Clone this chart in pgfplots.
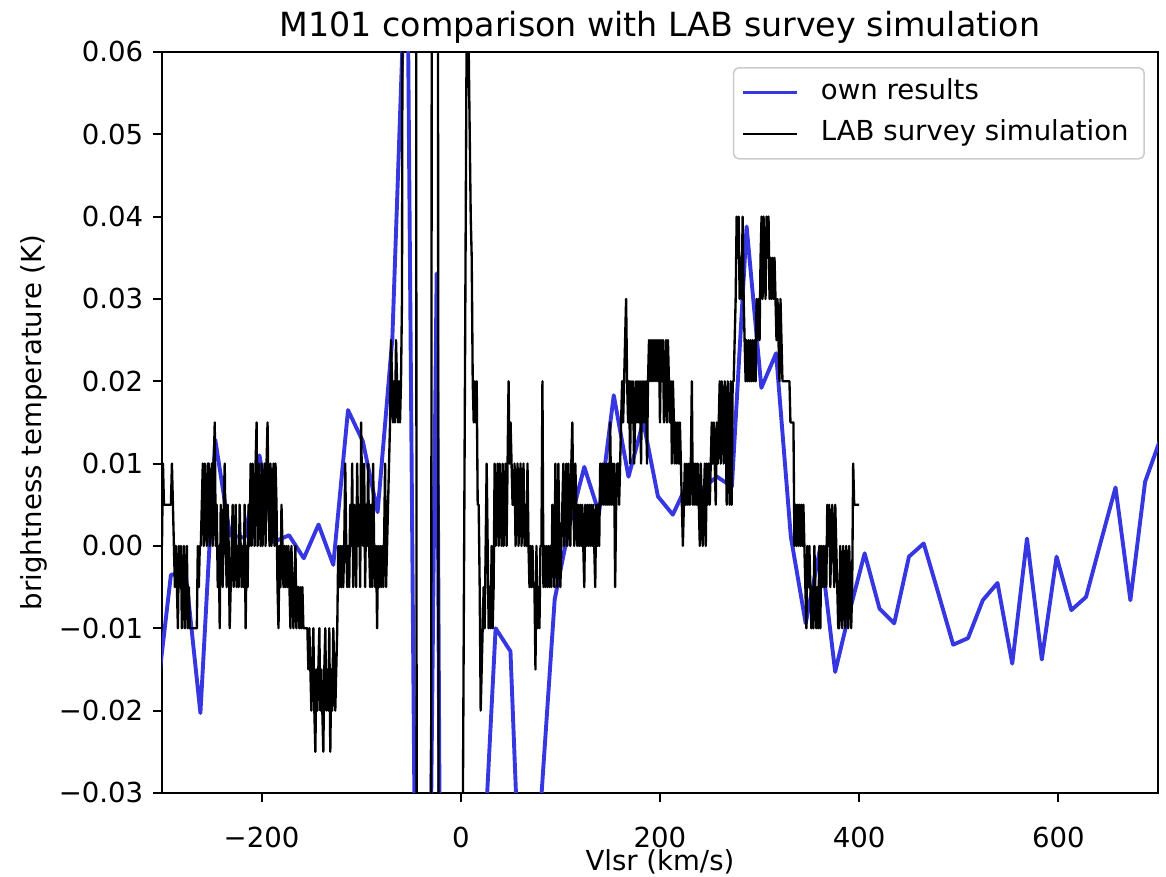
\documentclass[border=0pt]{standalone}
\usepackage{fontspec}
\setmainfont{DejaVu Sans}
\usepackage{pgfplots}
\pgfplotsset{compat=1.18}
\definecolor{ownblue}{RGB}{55,55,225}
\definecolor{legframe}{RGB}{204,204,204}
\begin{document}
\begin{tikzpicture}
\begin{axis}[
  scale only axis, width=383.1pt, height=285pt,
  at={(0,0)}, anchor=south west,
  xmin=-300, xmax=700, ymin=-0.03, ymax=0.06,
  xtick={-200,0,200,400,600},
  xticklabels={−200,0,200,400,600},
  ytick={-0.03,-0.02,-0.01,0,0.01,0.02,0.03,0.04,0.05,0.06},
  yticklabels={−0.03,−0.02,−0.01,0.00,0.01,0.02,0.03,0.04,0.05,0.06},
  scaled y ticks=false,
  tick align=outside, xtick pos=bottom, ytick pos=left,
  major tick length=3.5pt,
  every tick/.style={black, line width=0.8pt},
  axis line style={line width=0.8pt},
  tick label style={font=\fontsize{10.6}{12.7}\selectfont},
  xticklabel style={anchor=base, inner sep=0pt, yshift=-17.4pt},
  yticklabel style={anchor=east, inner sep=0pt, xshift=-3.5pt},
  title={M101 comparison with LAB survey simulation},
  title style={at={(axis description cs:0.5,1)}, anchor=base, yshift=0pt, inner sep=0pt, font=\fontsize{12.8}{15.4}\selectfont},
  xlabel={Vlsr (km/s)},
  xlabel style={at={([yshift=-30.0pt]axis description cs:0.5,0)}, anchor=base, inner sep=0pt, font=\fontsize{10.6}{12.7}\selectfont},
  ylabel={brightness temperature (K)},
  ylabel style={at={([xshift=-46.5pt]axis description cs:0,0.5)}, anchor=base, inner sep=0pt, font=\fontsize{10.6}{12.7}\selectfont},
  legend style={at={(1,1)}, anchor=north east, xshift=-5pt, yshift=-5.8pt,
    draw=legframe, line width=0.6pt, rounded corners=2pt, fill=white,
    font=\fontsize{10.6}{12.7}\selectfont, inner xsep=3pt, inner ysep=4.3pt,
    row sep=5.6pt, column sep=5.3pt,
    nodes={inner ysep=0pt, inner xsep=3pt, text height=7.8pt, text depth=2.6pt}},
  legend cell align=left,
  legend image code/.code={\draw[#1] (0pt,0pt) -- (20.8pt,0pt);},
]
\addplot[ownblue, line width=1.5pt, line join=round] coordinates {
(-305.8,-0.019) (-291.0,-0.0035) (-276.2,-0.0033) (-261.4,-0.0203) (-246.5,0.0129)
(-231.7,0.0013) (-216.9,0.0010) (-202.1,0.0110) (-187.3,0.0005) (-172.4,0.0013)
(-157.6,-0.0015) (-142.8,0.0026) (-128.0,-0.0023) (-113.2,0.0165) (-98.3,0.0127)
(-83.5,0.0041) (-68.7,0.0252) (-53.9,0.077) (-39.1,-0.140) (-24.2,0.0331)
(-9.4,-0.300) (5.4,-0.150) (20.2,-0.045) (35.0,-0.0100) (49.9,-0.0128)
(64.7,-0.059) (79.5,-0.033) (94.3,-0.0065) (109.1,0.0025) (124.0,0.0096)
(138.8,0.0040) (153.6,0.0183) (168.4,0.0084) (183.2,0.0151) (198.0,0.0060)
(212.9,0.0038) (227.7,0.0076) (242.5,0.0070) (257.3,0.0084) (272.2,0.0072)
(287.0,0.0388) (301.8,0.0192) (316.6,0.0234) (331.4,0.0011) (346.3,-0.0094)
(361.1,-0.0001) (375.9,-0.0153) (390.7,-0.0078) (405.5,-0.0009) (420.4,-0.0076)
(435.2,-0.0094) (450.0,-0.0013) (464.8,0.0003) (479.6,-0.0058) (494.4,-0.0120)
(509.3,-0.0112) (524.1,-0.0066) (538.9,-0.0045) (553.7,-0.0143) (568.5,0.0009)
(583.4,-0.0138) (598.2,-0.0013) (613.0,-0.0078) (627.8,-0.0062) (642.6,0.0005)
(657.4,0.0071) (672.3,-0.0066) (687.1,0.0078) (701.9,0.0128)
};
\addlegendentry{own results}
\addplot[black, line width=0.9pt, line join=round] coordinates {
(-300,0) (-299,0.01) (-298,0.005) (-297,0.005) (-296,0.005) (-295,0.005) (-294,0.005) (-293,0.005) (-292,0.005) (-291,0.005)
(-290,0.01) (-289,0.005) (-288,0) (-287,-0.005) (-286,0) (-285,-0.005) (-284,-0.01) (-283,0) (-282,-0.005) (-281,0)
(-280,-0.01) (-279,-0.005) (-278,0) (-277,-0.01) (-276,-0.005) (-275,0) (-274,-0.01) (-273,-0.005) (-272,-0.01) (-271,-0.01)
(-270,-0.01) (-269,-0.01) (-268,-0.01) (-267,-0.01) (-266,-0.01) (-265,-0.01) (-264,0) (-263,-0.005) (-262,0) (-261,0)
(-260,0.005) (-259,0.01) (-258,0) (-257,0.01) (-256,0.005) (-255,0) (-254,0.01) (-253,0.01) (-252,0) (-251,0.005)
(-250,0.01) (-249,0) (-248,0.01) (-247,0.015) (-246,0) (-245,0.005) (-244,-0.005) (-243,0) (-242,-0.01) (-241,0.005)
(-240,0) (-239,-0.005) (-238,0.005) (-237,0.01) (-236,0) (-235,-0.005) (-234,0.005) (-233,0) (-232,-0.01) (-231,-0.005)
(-230,0) (-229,0.005) (-228,-0.005) (-227,0) (-226,0.005) (-225,-0.005) (-224,0) (-223,-0.005) (-222,0.005) (-221,0)
(-220,-0.005) (-219,0) (-218,-0.005) (-217,0.005) (-216,-0.01) (-215,0) (-214,-0.005) (-213,0.005) (-212,0) (-211,0.01)
(-210,0) (-209,0.01) (-208,0.005) (-207,0) (-206,0.01) (-205,0.015) (-204,0) (-203,0.01) (-202,0.005) (-201,0)
(-200,0.01) (-199,0) (-198,0.005) (-197,0.01) (-196,0) (-195,0.01) (-194,0.015) (-193,0.005) (-192,0) (-191,0.01)
(-190,0) (-189,0.005) (-188,0.01) (-187,0) (-186,0.01) (-185,0.005) (-184,-0.005) (-183,-0.01) (-182,0) (-181,-0.005)
(-180,0.005) (-179,0) (-178,-0.005) (-177,0) (-176,-0.005) (-175,0) (-174,-0.005) (-173,0) (-172,-0.005) (-171,-0.01)
(-170,0) (-169,-0.005) (-168,-0.01) (-167,-0.005) (-166,0) (-165,-0.01) (-164,-0.005) (-163,-0.005) (-162,-0.01) (-161,-0.005)
(-160,-0.01) (-159,-0.005) (-158,-0.01) (-157,-0.01) (-156,-0.01) (-155,-0.01) (-154,-0.01) (-153,-0.015) (-152,-0.01) (-151,-0.015)
(-150,-0.02) (-149,-0.015) (-148,-0.01) (-147,-0.02) (-146,-0.025) (-145,-0.015) (-144,-0.02) (-143,-0.015) (-142,-0.01) (-141,-0.02)
(-140,-0.015) (-139,-0.02) (-138,-0.025) (-137,-0.015) (-136,-0.01) (-135,-0.02) (-134,-0.015) (-133,-0.02) (-132,-0.01) (-131,-0.025)
(-130,-0.015) (-129,-0.02) (-128,-0.01) (-127,-0.015) (-126,-0.02) (-125,-0.015) (-124,-0.01) (-123,0) (-122,-0.005) (-121,0)
(-120,-0.005) (-119,0) (-118,-0.005) (-117,0) (-116,0.01) (-115,0) (-114,-0.005) (-113,0) (-112,-0.005) (-111,0.005)
(-110,0) (-109,0.01) (-108,-0.005) (-107,0.005) (-106,0) (-105,-0.005) (-104,0.01) (-103,0) (-102,0.005) (-101,-0.005)
(-100,0.015) (-99,0.005) (-98,0) (-97,0.01) (-96,-0.005) (-95,0.005) (-94,0) (-93,0.01) (-92,0) (-91,-0.005)
(-90,0.005) (-89,-0.005) (-88,0.01) (-87,0) (-86,-0.005) (-85,0) (-84,-0.01) (-83,0) (-82,-0.005) (-81,0)
(-80,-0.005) (-79,0) (-78,-0.005) (-77,0) (-76,0.01) (-75,-0.005) (-74,0) (-73,0.005) (-72,0.01) (-71,0.015)
(-70,0.025) (-69,0.02) (-68,0.015) (-67,0.02) (-66,0.015) (-65,0.025) (-64,0.02) (-63,0.015) (-62,0.02) (-61,0.015)
(-60,0.02) (-59,0.03) (-58,0.10) (-57,0.13) (-56,0.15) (-55,0.16) (-54,0.17) (-53,0.17) (-52,0.16) (-51,0.16)
(-50,0.15) (-49,0.14) (-48,0.13) (-47,0.12) (-46,0.11) (-45,0.10) (-44,-0.08) (-43,-0.12) (-42,-0.14) (-41,-0.15)
(-40,-0.15) (-39,-0.16) (-38,-0.16) (-37,-0.16) (-36,-0.15) (-35,-0.15) (-34,-0.14) (-33,-0.13) (-32,-0.12) (-31,-0.10)
(-30,-0.08) (-29,0.09) (-28,0.12) (-27,0.13) (-26,0.13) (-25,0.12) (-24,0.10) (-23,0.09) (-22,-0.09) (-21,-0.13)
(-20,-0.15) (-19,-0.17) (-18,-0.18) (-17,-0.19) (-16,-0.20) (-15,-0.20) (-14,-0.20) (-13,-0.19) (-12,-0.18) (-11,-0.17)
(-10,-0.16) (-9,-0.15) (-8,-0.14) (-7,-0.13) (-6,-0.12) (-5,-0.11) (-4,-0.10) (-3,-0.09) (-2,-0.085) (-1,-0.08)
(0,-0.08) (1,-0.08) (2,-0.035) (3,-0.01) (4,0.015) (5,0.04) (6,0.065) (7,0.07) (8,0.06) (9,0.05)
(10,0.04) (11,0.035) (12,0.02) (13,0.015) (14,0.02) (15,0.015) (16,0.02) (17,0.005) (18,0.005) (19,-0.005)
(20,-0.02) (21,-0.015) (22,-0.01) (23,-0.005) (24,-0.01) (25,0) (26,0.01) (27,0) (28,-0.01) (29,-0.005)
(30,-0.01) (31,0) (32,-0.01) (33,-0.005) (34,0.01) (35,0) (36,0.005) (37,0.01) (38,0) (39,0.01)
(40,0.005) (41,0) (42,0.01) (43,0) (44,0.005) (45,0.01) (46,0) (47,0.01) (48,0.02) (49,0.01)
(50,0.015) (51,0.01) (52,0.005) (53,0.005) (54,0.01) (55,0) (56,0.005) (57,0.01) (58,0) (59,0.005)
(60,0.01) (61,0) (62,0.005) (63,0.01) (64,0) (65,0.005) (66,0) (67,0.01) (68,0) (69,-0.005)
(70,0) (71,-0.005) (72,0) (73,-0.005) (74,-0.005) (75,-0.015) (76,0) (77,-0.01) (78,-0.005) (79,-0.01)
(80,0) (81,0) (82,0.02) (83,-0.005) (84,0) (85,-0.005) (86,0) (87,-0.005) (88,0) (89,-0.005)
(90,0) (91,-0.005) (92,0.005) (93,0) (94,-0.005) (95,0.01) (96,0) (97,-0.005) (98,0.01) (99,0)
(100,-0.005) (101,0) (102,0.005) (103,0.01) (104,0) (105,0.005) (106,0.01) (107,0) (108,0.01) (109,0.005)
(110,0) (111,0.01) (112,0.015) (113,0.005) (114,0) (115,0.01) (116,0.005) (117,0) (118,0.005) (119,0)
(120,0.005) (121,0) (122,0.005) (123,0) (124,-0.005) (125,0.005) (126,0) (127,0.005) (128,0) (129,0.005)
(130,0) (131,0.005) (132,0) (133,0.005) (134,0) (135,-0.005) (136,0.005) (137,0) (138,0.005) (139,0)
(140,0.01) (141,0.005) (142,0.01) (143,0.005) (144,0.01) (145,0.005) (146,0.01) (147,0.005) (148,0.01) (149,0.005)
(150,0.015) (151,0.005) (152,0.01) (153,0.005) (154,0.01) (155,-0.005) (156,0.005) (157,0.01) (158,0.01) (159,0.005)
(160,0.01) (161,0.015) (162,0.02) (163,0.015) (164,0.02) (165,0.025) (166,0.03) (167,0.02) (168,0.015) (169,0.02)
(170,0.01) (171,0.02) (172,0.015) (173,0.02) (174,0.01) (175,0.015) (176,0.02) (177,0.015) (178,0.02) (179,0.015)
(180,0.02) (181,0.01) (182,0.02) (183,0.015) (184,0.02) (185,0.015) (186,0.02) (187,0.01) (188,0.02) (189,0.025)
(190,0.02) (191,0.025) (192,0.02) (193,0.025) (194,0.02) (195,0.025) (196,0.02) (197,0.025) (198,0.02) (199,0.025)
(200,0.015) (201,0.025) (202,0.02) (203,0.025) (204,0.015) (205,0.02) (206,0.025) (207,0.015) (208,0.025) (209,0.02)
(210,0.015) (211,0.02) (212,0.01) (213,0.02) (214,0.015) (215,0.01) (216,0.015) (217,0.01) (218,0.015) (219,0.01)
(220,0.015) (221,0.01) (222,0.005) (223,0) (224,0.005) (225,0.01) (226,0.005) (227,0.01) (228,0.005) (229,0.01)
(230,0.005) (231,0.01) (232,0.02) (233,0.005) (234,0.01) (235,0.005) (236,0.01) (237,0.005) (238,0.01) (239,0.005)
(240,0) (241,0.01) (242,0.005) (243,0) (244,0.005) (245,0.01) (246,0) (247,0.01) (248,0.005) (249,0.01)
(250,0.005) (251,0.01) (252,0.015) (253,0.01) (254,0.015) (255,0.01) (256,0.005) (257,0.015) (258,0.01) (259,0.015)
(260,0.02) (261,0.01) (262,0.02) (263,0.015) (264,0.01) (265,0.02) (266,0.015) (267,0.005) (268,0.02) (269,0.01)
(270,0.005) (271,0.02) (272,0.005) (273,0.02) (274,0.02) (275,0.025) (276,0.03) (277,0.04) (278,0.035) (279,0.04)
(280,0.03) (281,0.035) (282,0.03) (283,0.04) (284,0.03) (285,0.025) (286,0.02) (287,0.025) (288,0.02) (289,0.025)
(290,0.02) (291,0.025) (292,0.02) (293,0.025) (294,0.02) (295,0.025) (296,0.02) (297,0.03) (298,0.025) (299,0.03)
(300,0.025) (301,0.035) (302,0.04) (303,0.03) (304,0.04) (305,0.035) (306,0.03) (307,0.04) (308,0.035) (309,0.04)
(310,0.03) (311,0.035) (312,0.03) (313,0.035) (314,0.03) (315,0.035) (316,0.03) (317,0.025) (318,0.03) (319,0.025)
(320,0.02) (321,0.03) (322,0.025) (323,0.02) (324,0.02) (325,0.02) (326,0.02) (327,0.02) (328,0.02) (329,0.02)
(330,0.02) (331,0.015) (332,0.015) (333,0.015) (334,0.015) (335,0) (336,0.005) (337,0) (338,0.005) (339,0)
(340,0.005) (341,0) (342,0.005) (343,0) (344,0.005) (345,0) (346,-0.005) (347,-0.01) (348,0) (349,-0.005)
(350,0) (351,-0.005) (352,-0.01) (353,-0.005) (354,-0.01) (355,0) (356,-0.005) (357,-0.01) (358,-0.005) (359,-0.01)
(360,0) (361,-0.01) (362,0) (363,-0.005) (364,0) (365,-0.005) (366,0) (367,-0.005) (368,0.005) (369,0)
(370,0.005) (371,-0.005) (372,0) (373,0.005) (374,0) (375,-0.005) (376,0.005) (377,0) (378,-0.005) (379,-0.01)
(380,-0.01) (381,0) (382,-0.005) (383,-0.01) (384,0) (385,-0.005) (386,-0.01) (387,0) (388,-0.005) (389,-0.01)
(390,0) (391,-0.005) (392,-0.01) (393,-0.005) (394,0.01) (395,0.005) (396,0.005) (397,0.005) (398,0.005) (399,0.005)
(400,0.005)
};
\addlegendentry{LAB survey simulation}
\end{axis}
\pgfresetboundingbox
\useasboundingbox (-62.3pt,-32.3pt) rectangle (386.2pt,305pt);
\end{tikzpicture}
\end{document}
